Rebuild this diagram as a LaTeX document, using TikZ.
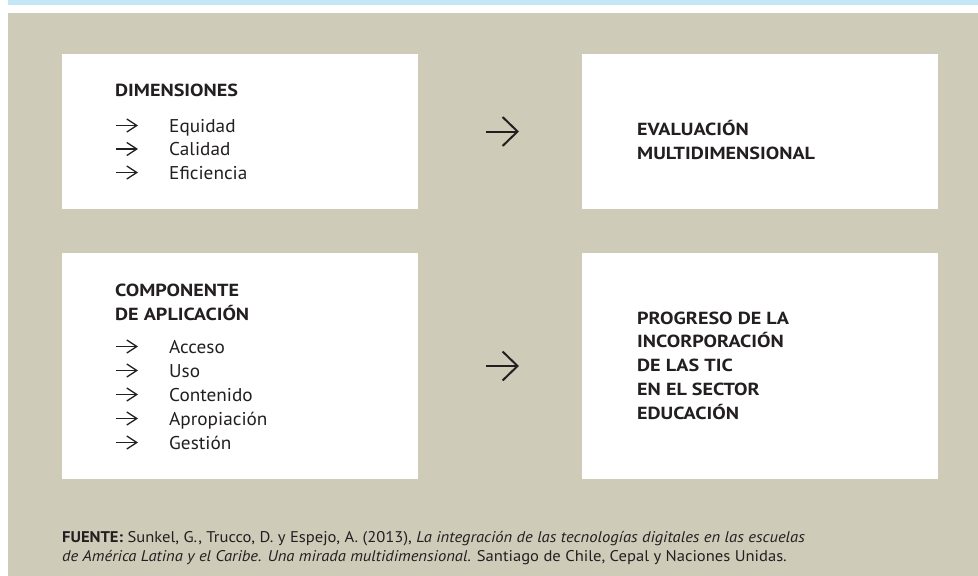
\documentclass[tikz,border=0pt]{standalone}
\usepackage{fontspec}
\setmainfont{PT Sans}
\newfontfamily\headfont[FakeStretch=1.15]{PT Sans}
\newfontfamily\itemfont[FakeStretch=1.04]{PT Sans}
\newfontfamily\footfont[FakeStretch=1.07]{PT Sans}
\usetikzlibrary{arrows.meta}
\definecolor{bandblue}{RGB}{196,231,247}
\definecolor{beige}{RGB}{207,203,185}
\definecolor{ink}{RGB}{35,31,32}
\begin{document}
\begin{tikzpicture}[x=1pt,y=-1pt,
  panel/.style={fill=white,draw=none,inner sep=0,outer sep=0,anchor=north west,minimum width=356pt,minimum height=#1},
  headtxt/.style={anchor=base west,inner sep=0,text=ink,font=\headfont\bfseries\fontsize{17.5}{20}\selectfont},
  itemtxt/.style={anchor=base west,inner sep=0,text=ink,font=\itemfont\fontsize{18.5}{20}\selectfont},
  foot/.style={anchor=base west,inner sep=0,text=ink,font=\footfont\fontsize{15.5}{19}\selectfont},
  listarrow/.style={draw=ink,line width=1.3pt,-{Straight Barb[length=10pt,width=13pt,line width=1.3pt]}},
  flowarrow/.style={draw=ink,line width=2pt,-{Straight Barb[length=15pt,width=29pt,line width=2pt]}}
]
\useasboundingbox (0,0) rectangle (978,576);
\fill[white] (0,0) rectangle (978,576);
\fill[bandblue] (8,0) rectangle (978,5);
\fill[beige] (8,13) rectangle (978,576);

% panels
\node[panel=155pt] (dim) at (62,54) {};
\node[panel=155pt] (eval) at (582,54) {};
\node[panel=226pt] (comp) at (62,253) {};
\node[panel=226pt] (prog) at (582,253) {};

% panel 1
\node[headtxt] (dimh) at (115,96) {DIMENSIONES};
\node[itemtxt] (i1) at (169,132) {Equidad};
\node[itemtxt] (i2) at (169,155.5) {Calidad};
\node[itemtxt] (i3) at (169,179) {Eficiencia};
\foreach \n in {i1,i2,i3}{
  \draw[listarrow] ([xshift=-53pt,yshift=6.5pt]\n.base west) -- ++(22,0);
}

% panel 2
\node[headtxt] (ev1) at (637,135) {EVALUACIÓN};
\node[headtxt] (ev2) at (637,159) {MULTIDIMENSIONAL};

% panel 3
\node[headtxt] (ch1) at (115,296) {COMPONENTE};
\node[headtxt] (ch2) at (115,320) {DE APLICACIÓN};
\node[itemtxt] (c1) at (169,353) {Acceso};
\node[itemtxt] (c2) at (169,377) {Uso};
\node[itemtxt] (c3) at (169,401) {Contenido};
\node[itemtxt] (c4) at (169,425) {Apropiación};
\node[itemtxt] (c5) at (169,449) {Gestión};
\foreach \n in {c1,c2,c3,c4,c5}{
  \draw[listarrow] ([xshift=-53pt,yshift=6.5pt]\n.base west) -- ++(22,0);
}

% panel 4
\node[headtxt] (p1) at (637,324) {PROGRESO DE LA};
\node[headtxt] (p2) at (637,347.5) {INCORPORACIÓN};
\node[headtxt] (p3) at (637,371) {DE LAS TIC};
\node[headtxt] (p4) at (637,395.5) {EN EL SECTOR};
\node[headtxt] (p5) at (637,419) {EDUCACIÓN};

% flow arrows
\draw[flowarrow,shorten <=68pt,shorten >=63pt] (dim.east) -- (eval.west);
\draw[flowarrow,shorten <=68pt,shorten >=63pt] (comp.east) -- (prog.west);

% footer
\node[foot] (f1) at (62,542) {\textbf{FUENTE:} Sunkel, G., Trucco, D. y Espejo, A. (2013), \textit{La integración de las tecnologías digitales en las escuelas}};
\node[foot] (f2) at (62,561) {\textit{de América Latina y el Caribe. Una mirada multidimensional.} Santiago de Chile, Cepal y Naciones Unidas.};
\end{tikzpicture}
\end{document}
